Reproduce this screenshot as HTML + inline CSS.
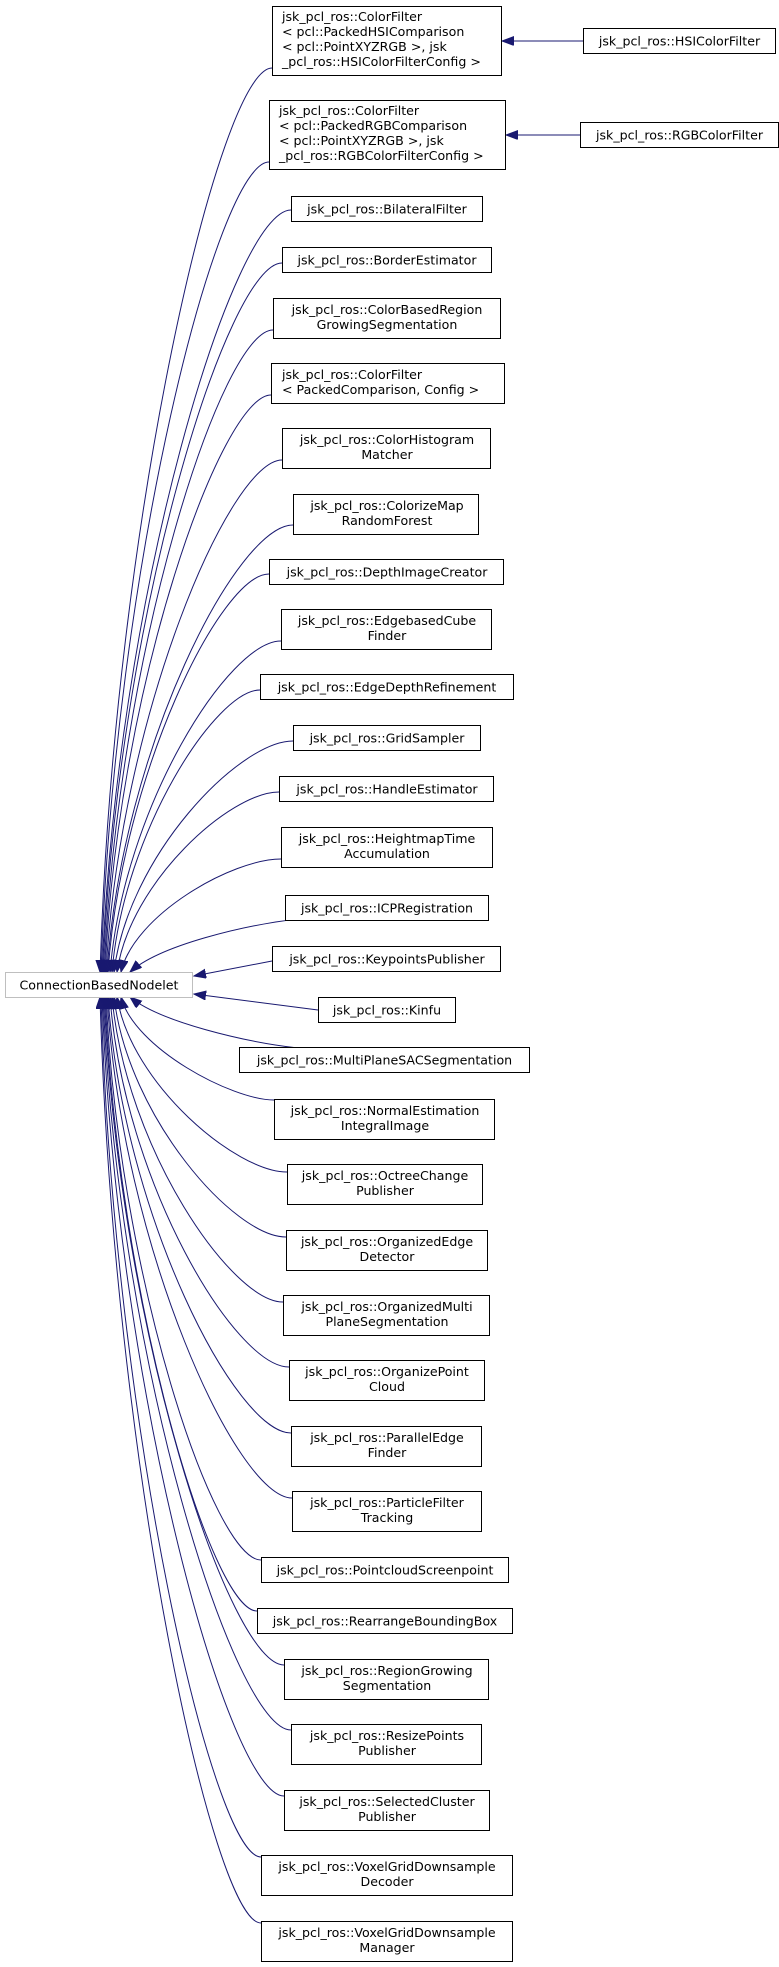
<!DOCTYPE html>
<html><head><meta charset="utf-8"><style>
html,body{margin:0;padding:0;background:#fff;}
svg{display:block;}
text{font-family:"DejaVu Sans","Liberation Sans",sans-serif;font-size:12.6px;fill:#000;}
.b{fill:#fff;stroke:#000;stroke-width:1;}
.e{fill:none;stroke:#191970;stroke-width:1;}
</style></head><body>
<svg width="779" height="1967" viewBox="0 0 779 1967" xmlns="http://www.w3.org/2000/svg">
<defs>
<marker id="a" markerUnits="userSpaceOnUse" markerWidth="13" markerHeight="10" refX="12" refY="4.5" orient="auto">
<path d="M0,0 L12,4.5 L0,9 z" fill="#191970" stroke="#191970"/>
</marker>
</defs>

<!-- edges upper -->
<g class="e" marker-end="url(#a)">
<path d="M272,68 C220,68 114,520 100,972"/>
<path d="M269,162 C218,162 114,567 101,972"/>
<path d="M291,210 C234,210 117,591 102,972"/>
<path d="M282,263 C228,263 117,617 103,972"/>
<path d="M273,330 C222,330 118,651 104,972"/>
<path d="M271,395 C222,395 118,683 105,972"/>
<path d="M282,460 C230,460 120,716 106,972"/>
<path d="M293,525 C237,525 122,748 107,972"/>
<path d="M269,574 C221,574 122,773 108,972"/>
<path d="M281,641 C229,641 124,806 110,972"/>
<path d="M260,690 C216,690 124,831 112,972"/>
<path d="M293,741 C239,741 128,856 114,972"/>
<path d="M279,792 C230,792 130,882 117,972"/>
<path d="M281,859 C232,859 134,915 121,972"/>
<path d="M298,919 C245,925 160,945 130,972"/>
<path d="M272,961 L194,976"/>
</g>
<!-- edges lower -->
<g class="e" marker-end="url(#a)">
<path d="M318,1010 L194,994"/>
<path d="M298,1048 C245,1042 160,1022 130,997"/>
<path d="M274,1100 C232,1100 134,1048 121,997"/>
<path d="M287,1172 C236,1172 131,1084 117,997"/>
<path d="M286,1237 C234,1237 128,1117 114,997"/>
<path d="M283,1302 C232,1302 126,1149 112,997"/>
<path d="M289,1367 C235,1367 124,1182 110,997"/>
<path d="M291,1433 C236,1433 123,1215 108,997"/>
<path d="M292,1498 C237,1498 122,1247 107,997"/>
<path d="M261,1560 C214,1560 119,1278 106,997"/>
<path d="M257,1611 C212,1611 119,1304 105,997"/>
<path d="M284,1665 C230,1665 119,1331 104,997"/>
<path d="M291,1730 C235,1730 118,1363 103,997"/>
<path d="M284,1796 C230,1796 117,1396 102,997"/>
<path d="M261,1857 C213,1857 114,1427 101,997"/>
<path d="M261,1923 C213,1923 113,1460 100,997"/>
</g>
<!-- right arrows -->
<g class="e" marker-end="url(#a)">
<path d="M583,41 L502,41"/>
<path d="M580,135 L506,135"/>
</g>

<!-- base -->
<rect x="5.5" y="972.5" width="187" height="25" fill="#fff" stroke="#bfbfbf"/>
<text x="99" y="989.5" text-anchor="middle">ConnectionBasedNodelet</text>

<!-- right nodes -->
<rect class="b" x="583.5" y="28.5" width="192" height="25"/>
<text x="679.5" y="45.5" text-anchor="middle">jsk_pcl_ros::HSIColorFilter</text>
<rect class="b" x="580.5" y="122.5" width="198" height="25"/>
<text x="679.5" y="139.5" text-anchor="middle">jsk_pcl_ros::RGBColorFilter</text>

<!-- four-line -->
<rect class="b" x="272.5" y="6.5" width="229" height="69"/>
<text x="282" y="21">jsk_pcl_ros::ColorFilter</text>
<text x="282" y="36">&lt; pcl::PackedHSIComparison</text>
<text x="282" y="51">&lt; pcl::PointXYZRGB &gt;, jsk</text>
<text x="282" y="66">_pcl_ros::HSIColorFilterConfig &gt;</text>
<rect class="b" x="269.5" y="100.5" width="236" height="69"/>
<text x="279" y="115">jsk_pcl_ros::ColorFilter</text>
<text x="279" y="130">&lt; pcl::PackedRGBComparison</text>
<text x="279" y="145">&lt; pcl::PointXYZRGB &gt;, jsk</text>
<text x="279" y="160">_pcl_ros::RGBColorFilterConfig &gt;</text>

<g text-anchor="middle">
<rect class="b" x="291.5" y="196.5" width="191" height="25"/><text x="387" y="213.5">jsk_pcl_ros::BilateralFilter</text>
<rect class="b" x="282.5" y="247.5" width="209" height="25"/><text x="387" y="264.5">jsk_pcl_ros::BorderEstimator</text>
<rect class="b" x="273.5" y="298.5" width="227" height="40"/><text x="387" y="314">jsk_pcl_ros::ColorBasedRegion</text><text x="387" y="329">GrowingSegmentation</text>
</g>
<rect class="b" x="271.5" y="363.5" width="233" height="40"/><text x="282" y="379">jsk_pcl_ros::ColorFilter</text><text x="282" y="394">&lt; PackedComparison, Config &gt;</text>
<g text-anchor="middle">
<rect class="b" x="282.5" y="428.5" width="208" height="40"/><text x="387" y="444">jsk_pcl_ros::ColorHistogram</text><text x="387" y="459">Matcher</text>
<rect class="b" x="293.5" y="494.5" width="185" height="40"/><text x="387" y="510">jsk_pcl_ros::ColorizeMap</text><text x="387" y="525">RandomForest</text>
<rect class="b" x="269.5" y="559.5" width="234" height="25"/><text x="387" y="576.5">jsk_pcl_ros::DepthImageCreator</text>
<rect class="b" x="281.5" y="609.5" width="210" height="40"/><text x="387" y="625">jsk_pcl_ros::EdgebasedCube</text><text x="387" y="640">Finder</text>
<rect class="b" x="260.5" y="674.5" width="253" height="25"/><text x="387" y="691.5">jsk_pcl_ros::EdgeDepthRefinement</text>
<rect class="b" x="293.5" y="725.5" width="187" height="25"/><text x="387" y="742.5">jsk_pcl_ros::GridSampler</text>
<rect class="b" x="279.5" y="776.5" width="214" height="25"/><text x="387" y="793.5">jsk_pcl_ros::HandleEstimator</text>
<rect class="b" x="281.5" y="827.5" width="211" height="40"/><text x="387" y="843">jsk_pcl_ros::HeightmapTime</text><text x="387" y="858">Accumulation</text>
<rect class="b" x="285.5" y="895.5" width="203" height="25"/><text x="387" y="912.5">jsk_pcl_ros::ICPRegistration</text>
<rect class="b" x="272.5" y="946.5" width="228" height="25"/><text x="387" y="963.5">jsk_pcl_ros::KeypointsPublisher</text>
<rect class="b" x="318.5" y="997.5" width="137" height="25"/><text x="387" y="1014.5">jsk_pcl_ros::Kinfu</text>
<rect class="b" x="239.5" y="1047.5" width="290" height="25"/><text x="384.5" y="1064.5">jsk_pcl_ros::MultiPlaneSACSegmentation</text>
<rect class="b" x="274.5" y="1099.5" width="220" height="40"/><text x="385" y="1115">jsk_pcl_ros::NormalEstimation</text><text x="385" y="1130">IntegralImage</text>
<rect class="b" x="287.5" y="1164.5" width="195" height="40"/><text x="385" y="1180">jsk_pcl_ros::OctreeChange</text><text x="385" y="1195">Publisher</text>
<rect class="b" x="286.5" y="1230.5" width="201" height="40"/><text x="387" y="1246">jsk_pcl_ros::OrganizedEdge</text><text x="387" y="1261">Detector</text>
<rect class="b" x="283.5" y="1295.5" width="206" height="40"/><text x="387" y="1311">jsk_pcl_ros::OrganizedMulti</text><text x="387" y="1326">PlaneSegmentation</text>
<rect class="b" x="289.5" y="1360.5" width="195" height="40"/><text x="387" y="1376">jsk_pcl_ros::OrganizePoint</text><text x="387" y="1391">Cloud</text>
<rect class="b" x="291.5" y="1426.5" width="190" height="40"/><text x="387" y="1442">jsk_pcl_ros::ParallelEdge</text><text x="387" y="1457">Finder</text>
<rect class="b" x="292.5" y="1491.5" width="189" height="40"/><text x="387" y="1507">jsk_pcl_ros::ParticleFilter</text><text x="387" y="1522">Tracking</text>
<rect class="b" x="261.5" y="1557.5" width="247" height="25"/><text x="385" y="1574.5">jsk_pcl_ros::PointcloudScreenpoint</text>
<rect class="b" x="257.5" y="1608.5" width="255" height="25"/><text x="385" y="1625.5">jsk_pcl_ros::RearrangeBoundingBox</text>
<rect class="b" x="284.5" y="1659.5" width="204" height="40"/><text x="387" y="1675">jsk_pcl_ros::RegionGrowing</text><text x="387" y="1690">Segmentation</text>
<rect class="b" x="291.5" y="1724.5" width="190" height="40"/><text x="387" y="1740">jsk_pcl_ros::ResizePoints</text><text x="387" y="1755">Publisher</text>
<rect class="b" x="284.5" y="1790.5" width="205" height="40"/><text x="387" y="1806">jsk_pcl_ros::SelectedCluster</text><text x="387" y="1821">Publisher</text>
<rect class="b" x="261.5" y="1855.5" width="251" height="40"/><text x="387" y="1871">jsk_pcl_ros::VoxelGridDownsample</text><text x="387" y="1886">Decoder</text>
<rect class="b" x="261.5" y="1921.5" width="251" height="40"/><text x="387" y="1937">jsk_pcl_ros::VoxelGridDownsample</text><text x="387" y="1952">Manager</text>
</g>
</svg>
</body></html>
